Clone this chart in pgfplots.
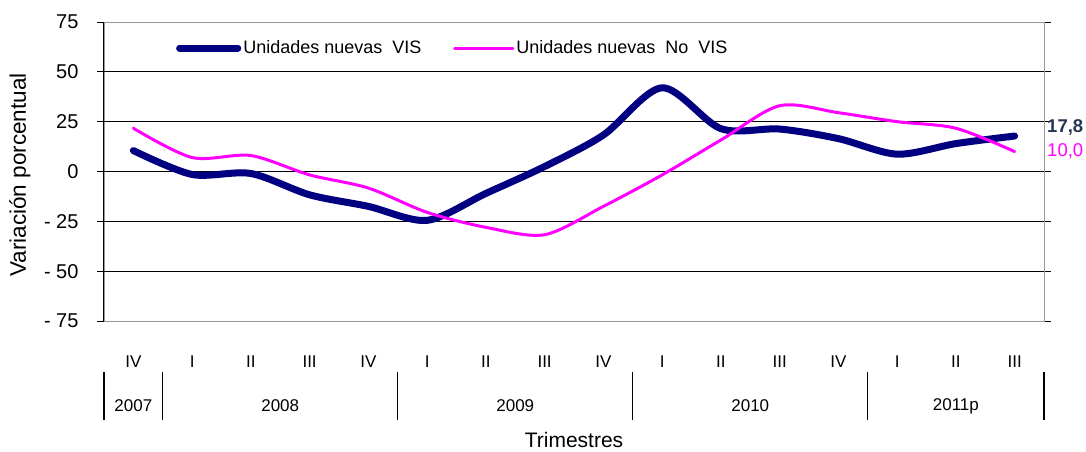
\documentclass[border=0pt]{standalone}
\usepackage{pgfplots}
\pgfplotsset{compat=1.18}
\usepackage{fontspec}
\setmainfont{Liberation Sans}
\definecolor{vis}{RGB}{0,0,128}
\definecolor{novis}{RGB}{255,0,255}
\definecolor{lab}{RGB}{36,54,84}
\begin{document}
\begin{tikzpicture}
\path[use as bounding box] (0,0) rectangle (1086pt,452pt);
\begin{axis}[
  at={(104pt,131pt)}, anchor=south west,
  width=940pt, height=299pt, scale only axis,
  xmin=-0.5, xmax=15.5, ymin=-75, ymax=75,
  clip=false,
  axis line style={draw=gray!80, line width=0.8pt},
  xtick={0,...,15},
  xticklabels={IV,I,II,III,IV,I,II,III,IV,I,II,III,IV,I,II,III},
  xtick style={draw=none},
  xticklabel style={anchor=center, yshift=-34pt, font=\fontsize{17}{20}\selectfont},
  ytick={-75,-50,-25,0,25,50,75},
  yticklabels={- 75,- 50,- 25,0,25,50,75},
  ytick style={black, line width=0.8pt},
  tick align=outside,
  major tick length=7pt,
  yticklabel style={font=\fontsize{20}{23}\selectfont, xshift=-15pt},
  extra y ticks={-50,-25,0,25,50},
  extra y tick labels={},
  extra y tick style={grid=major, major grid style={black, line width=1pt}, tick style={draw=none}},
  xlabel={Trimestres},
  xlabel style={at={(axis description cs:0.5,0)}, anchor=center, yshift=-119pt, font=\fontsize{21}{24}\selectfont},
  ylabel={Variación porcentual},
  ylabel style={at={(axis description cs:-0.0894,0.488)}, anchor=center, font=\fontsize{22.5}{25}\selectfont},
  legend style={at={(axis description cs:0.0735,0.913)}, anchor=west, draw=none, fill=none,
    font=\fontsize{18}{21}\selectfont, legend columns=2,
    /tikz/every even column/.append style={column sep=30pt}},
  legend image code/.code={\draw[#1, line cap=round] (0pt,0pt) -- (52pt,0pt); \path (0pt,0pt) -- (58pt,0pt);},
]
\addplot[vis, line width=7pt, line cap=round, smooth, tension=0.5] coordinates {
(0,10.5) (1,-1.5) (2,-1) (3,-11.7) (4,-17.5) (5,-24.5) (6,-11) (7,2.5)
(8,18.3) (9,42) (10,21.5) (11,21.3) (12,16.5) (13,8.7) (14,14) (15,17.8)};
\addlegendentry{Unidades nuevas \ VIS}
\addplot[novis, line width=3pt, line cap=round, smooth, tension=0.5] coordinates {
(0,21.7) (1,7) (2,8) (3,-1.7) (4,-8.3) (5,-20.5) (6,-28) (7,-31.7)
(8,-17.5) (9,-1.7) (10,15.8) (11,33) (12,29.5) (13,25) (14,21.7) (15,10)};
\addlegendentry{Unidades nuevas \ No \ VIS}
\draw[black, line width=1pt] (rel axis cs:0,0) -- (rel axis cs:0,1);
\node[anchor=west, text=lab, font=\bfseries\fontsize{18.5}{21}\selectfont, inner sep=0pt, xshift=3pt, yshift=9pt] at (axis cs:15.5,17.8) {17,8};
\node[anchor=west, text=novis, font=\fontsize{18.5}{21}\selectfont, inner sep=0pt, xshift=3pt] at (axis cs:15.5,10) {10,0};
\pgfplotsinvokeforeach{-0.5,0.5,4.5,8.5,12.5,15.5}{
  \draw[black, line width=1.2pt] (axis cs:#1,-100.6) -- (axis cs:#1,-124.7);
}
\node[font=\fontsize{17}{20}\selectfont] at (axis cs:0,-117.6) {2007};
\node[font=\fontsize{17}{20}\selectfont] at (axis cs:2.5,-117.6) {2008};
\node[font=\fontsize{17}{20}\selectfont] at (axis cs:6.5,-117.6) {2009};
\node[font=\fontsize{17}{20}\selectfont] at (axis cs:10.5,-117.6) {2010};
\node[font=\fontsize{17}{20}\selectfont] at (axis cs:14,-117.6) {2011p};
\end{axis}
\end{tikzpicture}
\end{document}
